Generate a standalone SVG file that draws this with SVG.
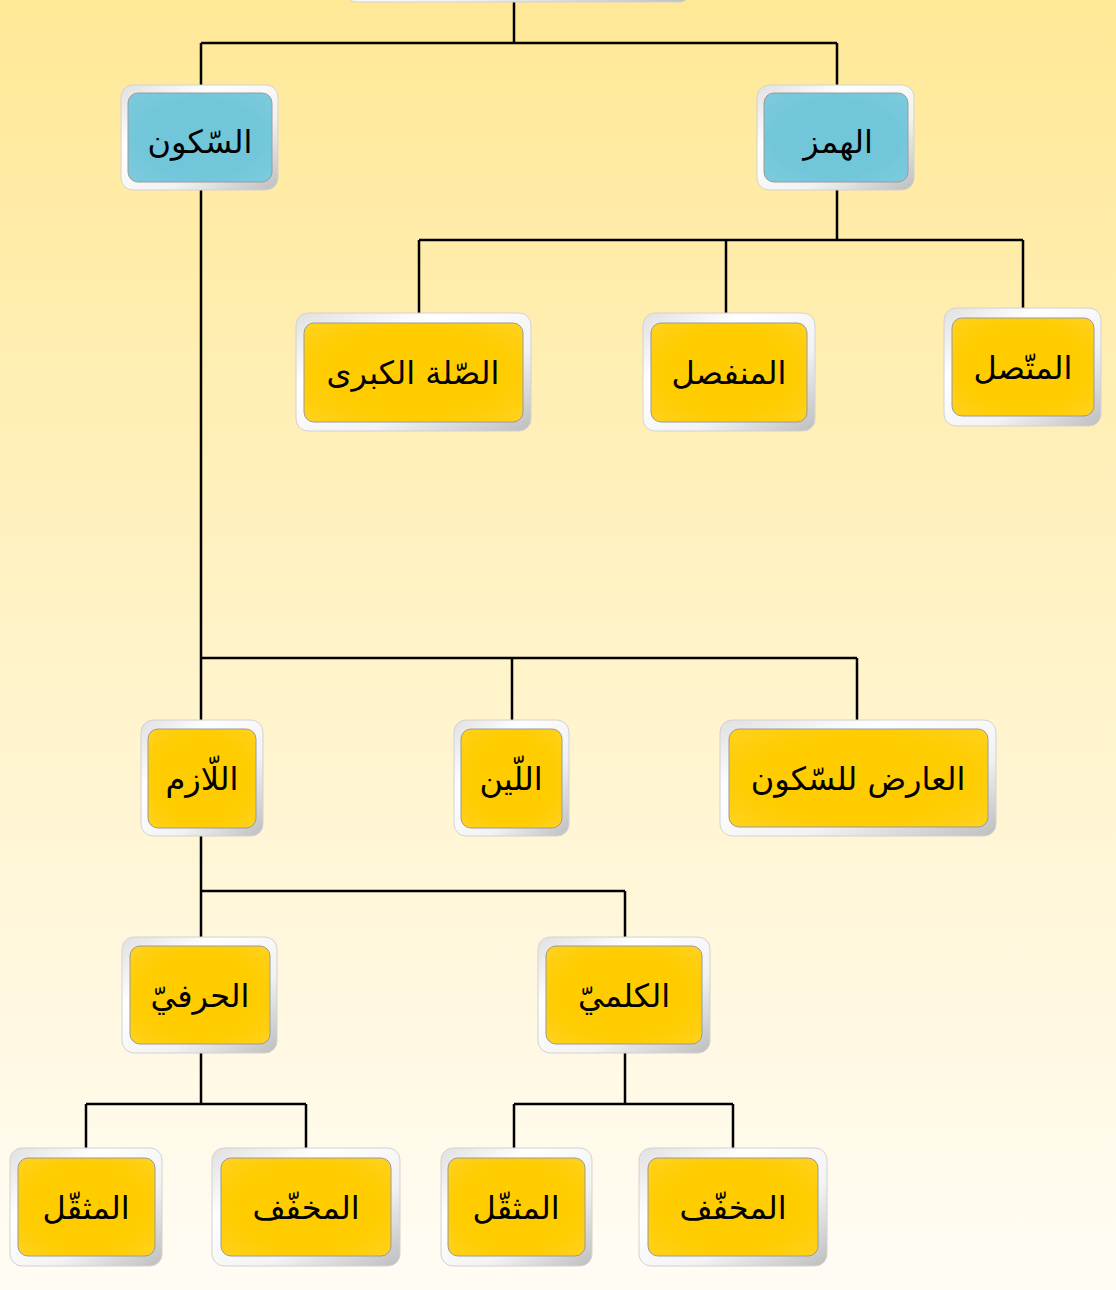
<svg xmlns="http://www.w3.org/2000/svg" width="1116" height="1290" viewBox="0 0 1116 1290">
<defs>
<linearGradient id="bg" x1="0" y1="0" x2="0" y2="1">
<stop offset="0" stop-color="#FFE896"/>
<stop offset="0.5" stop-color="#FFF3C8"/>
<stop offset="1" stop-color="#FFFCF4"/>
</linearGradient>
<linearGradient id="frame" x1="0" y1="0" x2="1" y2="1">
<stop offset="0" stop-color="#E0E0E0"/>
<stop offset="0.3" stop-color="#FFFFFF"/>
<stop offset="0.65" stop-color="#F2F2F2"/>
<stop offset="1" stop-color="#BEBEBE"/>
</linearGradient>
<radialGradient id="gold" cx="0.5" cy="0.5" r="0.7">
<stop offset="0.6" stop-color="#FFCC00"/>
<stop offset="1" stop-color="#FFD21E"/>
</radialGradient>
<radialGradient id="blue" cx="0.5" cy="0.5" r="0.7">
<stop offset="0.6" stop-color="#72C6DA"/>
<stop offset="1" stop-color="#7ECBDD"/>
</radialGradient>
</defs>
<style>
.fr{fill:url(#frame);stroke:#D2D2D2;stroke-width:1}
.y{fill:url(#gold);stroke:#9A9A9A;stroke-width:1}
.b{fill:url(#blue);stroke:#9A9A9A;stroke-width:1}
.t{font-family:"DejaVu Sans",sans-serif;font-size:32px;fill:#000;text-anchor:middle;dominant-baseline:central;direction:rtl}
.c{fill:none;stroke:#000;stroke-width:2.5}
</style>
<rect x="0" y="0" width="1116" height="1290" fill="url(#bg)"/>
<g id="connectors">
<path class="c" d="M514 0V43M201 43H837M201 43V85M837 43V85"/>
<path class="c" d="M837 190V240M419 240H1023M419 240V313M726 240V313M1023 240V308"/>
<path class="c" d="M201 190V658M201 658H857M201 658V720M512 658V720M857 658V720"/>
<path class="c" d="M201 836V891M201 891H625M201 891V937M625 891V937"/>
<path class="c" d="M201 1053V1104M86 1104H306M86 1104V1148M306 1104V1148"/>
<path class="c" d="M625 1053V1104M514 1104H733M514 1104V1148M733 1104V1148"/>
</g>
<g id="top"><rect class="fr" x="346" y="-60" width="344" height="62" rx="10"/></g>
<g id="n-sukun">
<rect class="fr" x="121" y="85" width="157" height="105" rx="12"/>
<rect class="b" x="128" y="93" width="144" height="89" rx="10"/>
<text class="t" x="200" y="142">السّكون</text>
</g>
<g id="n-hamz">
<rect class="fr" x="757" y="85" width="157" height="105" rx="12"/>
<rect class="b" x="764" y="93" width="144" height="89" rx="10"/>
<text class="t" x="838" y="142">الهمز</text>
</g>
<g id="n-sila">
<rect class="fr" x="296" y="313" width="235" height="118" rx="12"/>
<rect class="y" x="304" y="323" width="219" height="99" rx="10"/>
<text class="t" x="413" y="373">الصّلة الكبرى</text>
</g>
<g id="n-munfasil">
<rect class="fr" x="643" y="313" width="172" height="118" rx="12"/>
<rect class="y" x="651" y="323" width="156" height="99" rx="10"/>
<text class="t" x="729" y="373">المنفصل</text>
</g>
<g id="n-muttasil">
<rect class="fr" x="944" y="308" width="157" height="118" rx="12"/>
<rect class="y" x="952" y="318" width="142" height="98" rx="10"/>
<text class="t" x="1023" y="368">المتّصل</text>
</g>
<g id="n-lazim">
<rect class="fr" x="141" y="720" width="122" height="116" rx="12"/>
<rect class="y" x="148" y="729" width="108" height="99" rx="10"/>
<text class="t" x="202" y="779">اللّازم</text>
</g>
<g id="n-lin">
<rect class="fr" x="454" y="720" width="115" height="116" rx="12"/>
<rect class="y" x="461" y="729" width="101" height="99" rx="10"/>
<text class="t" x="511" y="779">اللّين</text>
</g>
<g id="n-arid">
<rect class="fr" x="720" y="720" width="276" height="116" rx="12"/>
<rect class="y" x="729" y="729" width="259" height="98" rx="10"/>
<text class="t" x="858" y="779">العارض للسّكون</text>
</g>
<g id="n-harfi">
<rect class="fr" x="122" y="937" width="155" height="116" rx="12"/>
<rect class="y" x="130" y="946" width="140" height="98" rx="10"/>
<text class="t" x="200" y="996">الحرفيّ</text>
</g>
<g id="n-kalimi">
<rect class="fr" x="538" y="937" width="172" height="116" rx="12"/>
<rect class="y" x="546" y="946" width="156" height="98" rx="10"/>
<text class="t" x="624" y="996">الكلميّ</text>
</g>
<g id="n-muthaqqal1">
<rect class="fr" x="10" y="1148" width="152" height="118" rx="12"/>
<rect class="y" x="18" y="1158" width="137" height="98" rx="10"/>
<text class="t" x="86" y="1208">المثقّل</text>
</g>
<g id="n-mukhaffaf1">
<rect class="fr" x="212" y="1148" width="188" height="118" rx="12"/>
<rect class="y" x="221" y="1158" width="170" height="98" rx="10"/>
<text class="t" x="306" y="1208">المخفّف</text>
</g>
<g id="n-muthaqqal2">
<rect class="fr" x="441" y="1148" width="151" height="118" rx="12"/>
<rect class="y" x="448" y="1158" width="137" height="98" rx="10"/>
<text class="t" x="516" y="1208">المثقّل</text>
</g>
<g id="n-mukhaffaf2">
<rect class="fr" x="639" y="1148" width="188" height="118" rx="12"/>
<rect class="y" x="648" y="1158" width="170" height="98" rx="10"/>
<text class="t" x="733" y="1208">المخفّف</text>
</g>
</svg>
